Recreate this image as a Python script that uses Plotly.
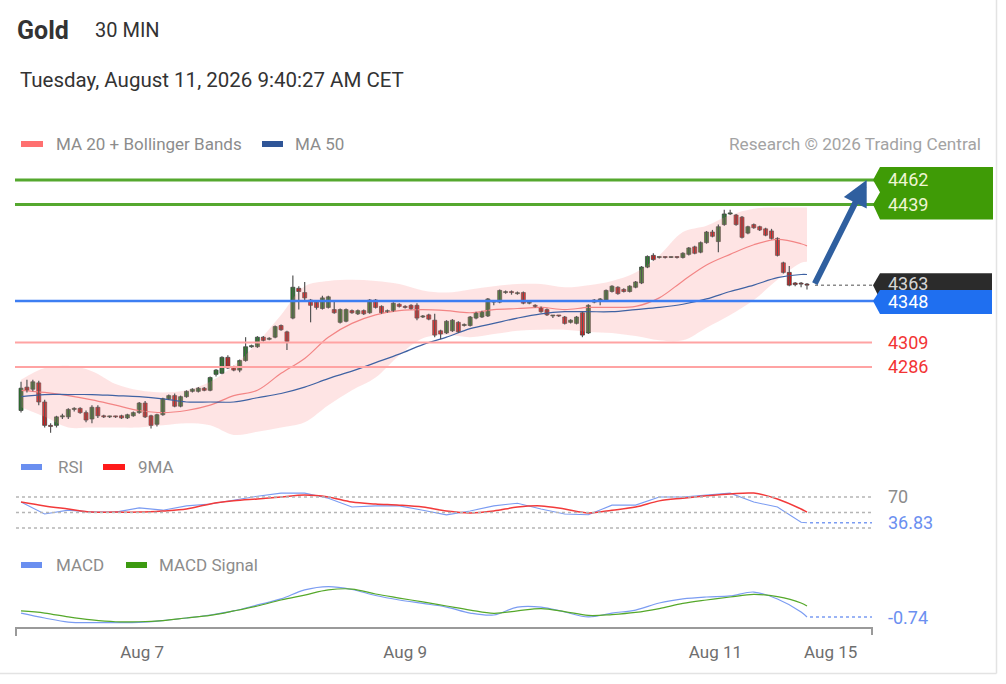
import plotly.graph_objects as go

W, H = 1006, 684

# ---------------- data ----------------
opens = [4245, 4267, 4265, 4271, 4253, 4231, 4231, 4239, 4239, 4246,
         4247, 4243, 4237, 4248, 4240, 4239, 4239, 4240, 4238, 4240,
         4243, 4252, 4240, 4232, 4241, 4256, 4259, 4249, 4258, 4263,
         4263, 4266, 4264, 4279, 4280, 4295, 4286, 4283, 4292, 4305,
         4305, 4314, 4312, 4314, 4325, 4319, 4332, 4360, 4356, 4349,
         4347, 4341, 4342, 4340, 4328, 4329, 4339, 4336, 4339, 4337,
         4349, 4343, 4338, 4339, 4345, 4343, 4344, 4344, 4333, 4335,
         4330, 4320, 4318, 4320, 4328, 4325, 4325, 4332, 4333, 4334,
         4347, 4347, 4356, 4356, 4355, 4356, 4346, 4344, 4342, 4340,
         4334, 4334, 4333, 4328, 4327, 4337, 4318, 4347, 4349, 4349,
         4357, 4361, 4359, 4357, 4361, 4365, 4380, 4391, 4389, 4389,
         4389, 4389, 4389, 4392, 4399, 4394, 4403, 4413, 4404, 4420,
         4430, 4429, 4427, 4412, 4420, 4418, 4416, 4414, 4407, 4384,
         4375, 4365, 4364.5, 4364]
highs = [4272, 4274, 4274, 4273, 4255, 4233, 4240, 4242, 4247, 4248,
         4248, 4245, 4250, 4250, 4241, 4240, 4240, 4241, 4242, 4244,
         4253, 4254, 4241, 4242, 4257, 4260, 4261, 4259, 4264, 4266,
         4267, 4267, 4277, 4284, 4296, 4297, 4287, 4293, 4314, 4307,
         4315, 4315, 4314, 4325, 4326, 4320, 4372, 4362, 4366, 4350,
         4348, 4353, 4353, 4349, 4341, 4341, 4340, 4340, 4340, 4350,
         4350, 4344, 4340, 4347, 4346, 4344, 4345, 4346, 4335, 4336,
         4336, 4321, 4330, 4331, 4329, 4327, 4334, 4338, 4339, 4351,
         4349, 4359, 4358, 4358, 4357, 4357, 4348, 4345, 4343, 4341,
         4335, 4335, 4334, 4331, 4334, 4338, 4345, 4350, 4351, 4359,
         4363, 4362, 4360, 4363, 4367, 4381, 4391, 4393, 4390, 4390,
         4390, 4390, 4394, 4399, 4400, 4404, 4414, 4415, 4420, 4434,
         4434, 4430, 4428, 4419, 4421, 4419, 4417, 4416, 4408, 4385,
         4381, 4366, 4366, 4365]
lows = [4243, 4262, 4263, 4250, 4229, 4224, 4229, 4237, 4237, 4244,
        4242, 4234, 4233, 4238, 4238, 4238, 4238, 4237, 4237, 4239,
        4242, 4238, 4228, 4230, 4240, 4255, 4248, 4248, 4257, 4262,
        4262, 4263, 4263, 4277, 4279, 4284, 4282, 4281, 4291, 4304,
        4304, 4310, 4311, 4313, 4320, 4302, 4331, 4340, 4349, 4328,
        4340, 4340, 4341, 4336, 4327, 4328, 4336, 4335, 4335, 4336,
        4341, 4336, 4337, 4338, 4342, 4341, 4340, 4330, 4332, 4330,
        4314, 4312, 4317, 4319, 4318, 4324, 4324, 4331, 4332, 4333,
        4344, 4346, 4355, 4354, 4354, 4345, 4345, 4342, 4337, 4334,
        4332, 4333, 4326, 4327, 4326, 4314, 4317, 4346, 4344, 4348,
        4356, 4354, 4356, 4356, 4360, 4364, 4379, 4386, 4388, 4388,
        4388.5, 4388, 4388, 4391, 4392, 4393, 4402, 4408, 4394, 4419,
        4429, 4419, 4407, 4411, 4416, 4414, 4409, 4406, 4390, 4374,
        4362, 4362, 4361, 4359]
closes = [4266, 4264, 4272, 4253, 4231, 4230, 4239, 4240, 4246, 4247,
          4243, 4236, 4248, 4240, 4239, 4239.5, 4239, 4238, 4241, 4243,
          4252, 4239, 4231, 4241, 4256, 4259, 4249, 4258, 4263, 4265,
          4266, 4264, 4276, 4283, 4295, 4285, 4283, 4292, 4305, 4306,
          4314, 4311, 4313, 4324, 4321, 4310, 4361, 4357, 4351, 4344,
          4342, 4351, 4352, 4337, 4340, 4340, 4337, 4339, 4336, 4349,
          4342, 4337, 4339, 4346, 4343, 4342, 4341, 4332, 4334, 4331,
          4316, 4317, 4329, 4330, 4319, 4326, 4333, 4337, 4338, 4350,
          4347.5, 4358, 4356.5, 4356, 4355.5, 4346, 4346.5, 4343, 4338, 4335,
          4334.5, 4334, 4327, 4330, 4333, 4316, 4344, 4349, 4350, 4358,
          4362, 4355, 4357, 4362, 4366, 4380, 4390, 4387, 4389.5, 4389,
          4389.3, 4389, 4393, 4398, 4393, 4403, 4413, 4409, 4418, 4430,
          4431, 4420, 4408, 4418, 4417, 4415, 4410, 4407, 4391, 4375,
          4363, 4363.5, 4364, 4363]

# indicator values sampled every 4th candle (plus the last one)
ind_idx = list(range(0, 133, 4)) + [133]
ma20 = [4264, 4262, 4259, 4255, 4250, 4245, 4243, 4245, 4250, 4259,
        4264, 4280, 4294, 4314, 4327, 4335, 4339, 4340, 4339, 4337,
        4340, 4341, 4342, 4340, 4342, 4342, 4343, 4351, 4367, 4382,
        4392, 4401, 4406, 4402, 4400]
ma50 = [4258, 4260, 4260, 4260, 4259, 4258, 4256, 4253, 4253, 4253,
        4257, 4261, 4267, 4275, 4282, 4290, 4298, 4307, 4314, 4322,
        4327, 4332, 4336, 4338, 4338, 4338, 4340, 4342, 4345, 4350,
        4357, 4363, 4370, 4373, 4373]
bb_upper = [4274, 4285, 4287, 4282, 4270, 4264, 4262, 4264, 4272, 4287,
            4309, 4335, 4362, 4367, 4368, 4367, 4364, 4358, 4356, 4359,
            4362, 4364, 4364, 4361, 4363, 4367, 4375, 4391, 4413, 4419,
            4429, 4435, 4436, 4436, 4436]
bb_lower = [4248, 4239, 4229, 4229, 4229, 4229, 4231, 4233, 4231, 4222,
            4225, 4229, 4234, 4250, 4264, 4276, 4297, 4313, 4316, 4314,
            4317, 4320, 4321, 4321, 4319, 4318, 4315, 4311, 4311, 4323,
            4335, 4349, 4368, 4384, 4385]
rsi = [63.5, 48, 53, 50.5, 50.5, 56, 53, 58.5, 61, 66,
       71, 75, 75, 68.5, 57, 58.5, 58.5, 53, 47, 52,
       58.5, 62, 54.5, 48, 47, 59.5, 59.5, 70, 70, 72.5,
       75, 63.5, 57, 37.5, 36.83]
rsi_ma9 = [63.5, 58.5, 54.5, 50.5, 50.5, 50.5, 52, 54.5, 61, 65,
           67.5, 70, 72.5, 70, 63.5, 61, 59.5, 57, 52, 49.5,
           52, 57, 58.5, 54.5, 49.5, 53, 57, 65, 68.5, 71.5,
           74, 75, 67.5, 54.5, 50.5]
macd = [1.9, -1.4, -4.1, -4.5, -4.5, -4.3, -3.1, -1.4, 0.6, 3.3,
        7.3, 11.3, 17.3, 19.5, 17.6, 13.6, 10.6, 8.3, 5.9, 1.9,
        0.6, 5.9, 5.9, 2.6, -0.7, 1.9, 3.9, 8.6, 11.3, 12.6,
        13.3, 15.9, 11.3, 2.6, -0.74]
macd_signal = [3.3, 1.9, -0.7, -2.7, -3.9, -3.9, -3.1, -1.4, 0.3, 3.3,
               6.6, 10.6, 13.9, 17.3, 17.9, 14.6, 11.9, 9.3, 6.6, 3.9,
               1.7, 3.3, 4.9, 2.9, 0.3, 0.9, 2.3, 4.9, 8.3, 10.6,
               12.6, 14.3, 12.8, 8.6, 6.6]

resistances = [4462, 4439]
pivot = 4348
supports = [4309, 4286]
last_price = 4363
rsi_levels = [70, 50, 30]
rsi_last = 36.83
macd_last = -0.74

tick_pos = [20.5, 65, 117.5, 137]
tick_text = ["Aug 7", "Aug 9", "Aug 11", "Aug 15"]

# ---------------- layout geometry (pixels) ----------------
def px(x):
    return x / W

def py(y):
    return 1 - y / H

X_L, X_R = 16, 872
PRICE_TOP, PRICE_BOT = 160, 450
P_LO, P_HI = 4207.8, 4480.8
RSI_TOP, RSI_BOT = 485, 535
MACD_TOP, MACD_BOT = 575, 627
X_RANGE = [-0.85, 144.0]


def y_of_price(p):
    return PRICE_TOP + (P_HI - p) / (P_HI - P_LO) * (PRICE_BOT - PRICE_TOP)


n = len(closes)
xs = list(range(n))
FONT = "Roboto"

fig = go.Figure()

# Bollinger band
fig.add_trace(go.Scatter(x=ind_idx, y=bb_upper, mode="lines", line=dict(width=0, shape="spline"),
                         hoverinfo="skip", showlegend=False))
fig.add_trace(go.Scatter(x=ind_idx, y=bb_lower, mode="lines", line=dict(width=0, shape="spline"),
                         fill="tonexty", fillcolor="rgba(250,150,150,0.26)",
                         hoverinfo="skip", showlegend=False))
fig.add_trace(go.Scatter(x=ind_idx, y=ma20, mode="lines", line=dict(color="#f38585", width=1.2, shape="spline"),
                         hoverinfo="skip", showlegend=False))
fig.add_trace(go.Scatter(x=ind_idx, y=ma50, mode="lines", line=dict(color="#3f62a3", width=1.2, shape="spline"),
                         hoverinfo="skip", showlegend=False))

# candles: wicks (lines) + bodies (bars)
wick_x, wick_y = [], []
for i in xs:
    wick_x += [i, i, None]
    wick_y += [lows[i], highs[i], None]
fig.add_trace(go.Scatter(x=wick_x, y=wick_y, mode="lines", line=dict(color="#555555", width=1.2),
                         hoverinfo="skip", showlegend=False))
body_base = [min(o, c) for o, c in zip(opens, closes)]
body_h = [max(abs(c - o), 0.9) for o, c in zip(opens, closes)]
body_col = ["#26822a" if c > o else "#e31616" for o, c in zip(opens, closes)]
fig.add_trace(go.Bar(x=xs, y=body_h, base=body_base, width=0.68,
                     marker=dict(color=body_col, line=dict(color="#3a3a3a", width=0.7)),
                     hoverinfo="skip", showlegend=False))

# RSI
fig.add_trace(go.Scatter(x=ind_idx, y=rsi, yaxis="y2", mode="lines",
                         line=dict(color="#7b9cf2", width=1.1), hoverinfo="skip", showlegend=False))
fig.add_trace(go.Scatter(x=ind_idx, y=rsi_ma9, yaxis="y2", mode="lines",
                         line=dict(color="#f23a3a", width=1.5, shape="spline"), hoverinfo="skip", showlegend=False))
# MACD
fig.add_trace(go.Scatter(x=ind_idx, y=macd, yaxis="y3", mode="lines",
                         line=dict(color="#7b9cf2", width=1.2, shape="spline"), hoverinfo="skip", showlegend=False))
fig.add_trace(go.Scatter(x=ind_idx, y=macd_signal, yaxis="y3", mode="lines",
                         line=dict(color="#55a82a", width=1.2, shape="spline"), hoverinfo="skip", showlegend=False))

# last price text (partly under the 4348 box, like in the reference)
fig.add_trace(go.Scatter(x=[888], y=[last_price], xaxis="x2", yaxis="y", mode="text",
                         text=[str(last_price)], textposition="middle right",
                         textfont=dict(family=FONT, size=18, color="#d6d6d6"),
                         hoverinfo="skip", showlegend=False))

shapes = []


def line_paper(x0, y0, x1, y1, color, width, dash="solid", layer="above"):
    shapes.append(dict(type="line", xref="paper", yref="paper", x0=px(x0), y0=py(y0), x1=px(x1), y1=py(y1),
                       line=dict(color=color, width=width, dash=dash), layer=layer))


def path_paper(points, color, layer="above"):
    d = "M " + " L ".join(f"{px(a):.5f},{py(b):.5f}" for a, b in points) + " Z"
    shapes.append(dict(type="path", xref="paper", yref="paper", path=d, fillcolor=color,
                       line=dict(width=0), layer=layer))


def rect_paper(x0, y0, x1, y1, color):
    shapes.append(dict(type="rect", xref="paper", yref="paper", x0=px(x0), y0=py(y0), x1=px(x1), y1=py(y1),
                       fillcolor=color, line=dict(width=0)))


# level lines
for lv in resistances:
    shapes.append(dict(type="line", xref="paper", yref="y", x0=px(15), x1=px(880), y0=lv, y1=lv,
                       line=dict(color="#55a82e", width=3)))
shapes.append(dict(type="line", xref="paper", yref="y", x0=px(15), x1=px(880), y0=pivot, y1=pivot,
                   line=dict(color="#3d7ef2", width=2.5)))
for lv in supports:
    shapes.append(dict(type="line", xref="paper", yref="y", x0=px(15), x1=px(872), y0=lv, y1=lv,
                       line=dict(color="#ffa3a3", width=2)))

# dotted line from last price to label
yl = y_of_price(last_price)
line_paper(815, yl, 874, yl, "#8a8a8a", 1.5, dash="dot", layer="below")

# label boxes
yr1, yr2 = y_of_price(resistances[0]), y_of_price(resistances[1])
path_paper([(880, yr1 - 13), (993, yr1 - 13), (993, yr2 + 15), (880, yr2 + 15), (873, yr2),
            (880, (yr1 + yr2) / 2), (873, yr1)], "#3f9b06")
path_paper([(880, yl - 12), (992, yl - 12), (992, yl + 14), (880, yl + 14), (873, yl)], "#2b2b2b", layer="below")
yp = y_of_price(pivot)
path_paper([(880, yp - 11), (992, yp - 11), (992, yp + 13), (880, yp + 13), (873, yp)], "#1f6ff0")

# RSI guide lines
for lv in rsi_levels:
    shapes.append(dict(type="line", xref="paper", yref="y2", x0=px(X_L), x1=px(X_R), y0=lv, y1=lv,
                       line=dict(color="#b5b5b5", width=1.5, dash="dot")))
shapes.append(dict(type="line", xref="paper", yref="y2", x0=px(810), x1=px(X_R), y0=rsi_last, y1=rsi_last,
                   line=dict(color="#7b9cf2", width=1.5, dash="dot")))
shapes.append(dict(type="line", xref="paper", yref="y3", x0=px(810), x1=px(X_R), y0=macd_last, y1=macd_last,
                   line=dict(color="#7b9cf2", width=1.5, dash="dot")))

# axis end ticks
line_paper(X_L, MACD_BOT, X_L, MACD_BOT + 9, "#9a9a9a", 2)
line_paper(X_R, MACD_BOT, X_R, MACD_BOT + 8, "#9a9a9a", 2)

# legend swatches
rect_paper(21, 141, 43, 147, "#ff7070")
rect_paper(262, 141, 283, 147, "#2f5597")
rect_paper(21, 464, 42, 470, "#6a8ff0")
rect_paper(103, 464, 125, 470, "#ff1a1a")
rect_paper(21, 562, 42, 568, "#6a8ff0")
rect_paper(126, 562, 147, 568, "#3c9a10")

# outer frame (right and bottom)
line_paper(996.5, 0, 996.5, 673.5, "#e3e3e3", 1.5)
line_paper(0, 673.5, 996.5, 673.5, "#e3e3e3", 1.5)

annotations = []


def text_px(x, y, s, size, color, bold=False, xanchor="left"):
    annotations.append(dict(xref="paper", yref="paper", x=px(x), y=py(y), text=f"<b>{s}</b>" if bold else s,
                            showarrow=False, xanchor=xanchor, yanchor="middle",
                            font=dict(family=FONT, size=size, color=color)))


def text_level(x, yref, yval, s, size, color):
    annotations.append(dict(xref="paper", yref=yref, x=px(x), y=yval, text=s, showarrow=False,
                            xanchor="left", yanchor="middle", font=dict(family=FONT, size=size, color=color)))


text_px(15, 30, "Gold", 25, "#333333", bold=True)
text_px(93, 30, "30 MIN", 20, "#333333")
text_px(18, 80, "Tuesday, August 11, 2026 9:40:27 AM CET", 20.5, "#333333")
text_px(54, 144, "MA 20 + Bollinger Bands", 17, "#8c8c8c")
text_px(293, 144, "MA 50", 17, "#8c8c8c")
text_px(983, 144, "Research © 2026 Trading Central", 17.2, "#a3a3a3", xanchor="right")
text_px(56, 467, "RSI", 17, "#8c8c8c")
text_px(136, 467, "9MA", 17, "#8c8c8c")
text_px(54, 565, "MACD", 17, "#8c8c8c")
text_px(157, 565, "MACD Signal", 17, "#8c8c8c")

for lv in resistances:
    text_level(886, "y", lv, str(lv), 18, "#eef5d2")
text_level(886, "y", pivot, str(pivot), 18, "#ffffff")
for lv in supports:
    text_level(886, "y", lv, str(lv), 18, "#f23434")
text_level(886, "y2", rsi_levels[0], str(rsi_levels[0]), 18, "#8c8c8c")
text_level(886, "y2", rsi_last, f"{rsi_last:.2f}", 18, "#6b8ff0")
text_level(886, "y3", macd_last, f"{macd_last:.2f}", 18, "#6b8ff0")

# forecast arrow
annotations.append(dict(xref="x", yref="y", axref="x", ayref="y", x=143.1, y=resistances[0],
                        ax=134.2, ay=last_price, text="", showarrow=True, arrowhead=2, arrowsize=0.85,
                        arrowwidth=6, arrowcolor="#2f5f9f", standoff=0, startstandoff=0))

fig.update_layout(
    width=W, height=H,
    margin=dict(l=0, r=0, t=0, b=0),
    paper_bgcolor="white", plot_bgcolor="rgba(0,0,0,0)",
    showlegend=False,
    font=dict(family=FONT),
    xaxis=dict(domain=[px(X_L), px(X_R)], range=X_RANGE, anchor="y3",
               showline=True, linecolor="#9a9a9a", linewidth=2,
               showgrid=False, zeroline=False, ticks="",
               tickvals=tick_pos, ticktext=tick_text, ticklabelstandoff=9,
               tickfont=dict(family=FONT, size=17, color="#6e6e6e"),
               fixedrange=True),
    xaxis2=dict(domain=[0, 1], range=[0, W], anchor="y", visible=False, fixedrange=True),
    yaxis=dict(domain=[py(PRICE_BOT), py(PRICE_TOP)], range=[P_LO, P_HI], anchor="x",
               visible=False, fixedrange=True),
    yaxis2=dict(domain=[py(RSI_BOT), py(RSI_TOP)], range=[20.97, 85.48], anchor="x",
                visible=False, fixedrange=True),
    yaxis3=dict(domain=[py(MACD_BOT), py(MACD_TOP)], range=[-7.41, 27.26], anchor="x",
                visible=False, fixedrange=True),
    shapes=shapes,
    annotations=annotations,
)

fig.write_html("out.html", config=dict(displayModeBar=False),
               post_script="document.body.style.margin='0';document.body.style.overflow='hidden';")
